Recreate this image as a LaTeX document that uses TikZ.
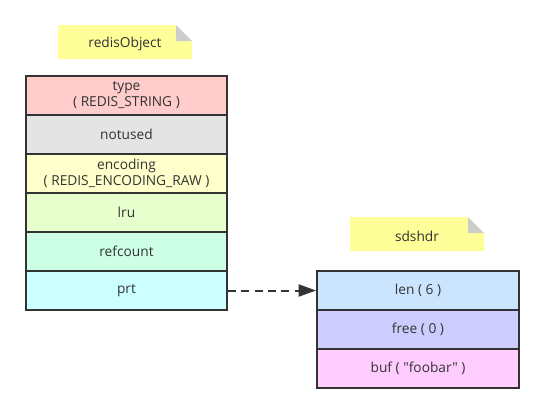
\documentclass[tikz,border=0pt]{standalone}
\usepackage{fontspec}
\setmainfont{Open Sans}[Ligatures=TeXOff]
\usetikzlibrary{arrows.meta}
\definecolor{edge}{HTML}{333333}
\definecolor{txt}{HTML}{333333}
\definecolor{notey}{HTML}{FFFF99}
\definecolor{fold}{HTML}{CCCCCC}
\tikzset{
  cell/.style={draw=edge, line width=1.5pt, minimum width=201*0.75pt, minimum height=39*0.75pt,
    inner sep=0pt, align=center, font=\fontsize{10.3}{12}\selectfont, text=txt, anchor=north west},
  cellr/.style={cell, minimum width=202*0.75pt},
  notetext/.style={font=\fontsize{10.3}{12}\selectfont, text=txt},
  link/.style={draw=edge, line width=1.5pt, dash pattern=on 6pt off 4pt, -{Triangle[length=13pt,width=9pt]}}
}
\begin{document}
\begin{tikzpicture}[x=0.75pt,y=-0.75pt]
\useasboundingbox (0,0) rectangle (543,412);
% note redisObject
\fill[notey] (58,25) -- (176,25) -- (192,41) -- (192,59) -- (58,59) -- cycle;
\fill[fold] (176,25) -- (176,41) -- (192,41) -- cycle;
\node[notetext] (n1) at (125,44) {redisObject};
% note sdshdr
\fill[notey] (350,217) -- (468,217) -- (484,233) -- (484,251) -- (350,251) -- cycle;
\fill[fold] (468,217) -- (468,233) -- (484,233) -- cycle;
\node[notetext] (n2) at (417,236) {sdshdr};
% left stack
\node[cell, fill={rgb,255:red,255;green,204;blue,204}] (type) at (25,75) {type\\( REDIS\_STRING )};
\node[cell, fill={rgb,255:red,228;green,228;blue,228}] (notused) at (25,114) {notused};
\node[cell, fill={rgb,255:red,255;green,255;blue,204}] (enc) at (25,153) {encoding\\( REDIS\_ENCODING\_RAW )};
\node[cell, fill={rgb,255:red,230;green,255;blue,204}] (lru) at (25,192) {lru};
\node[cell, fill={rgb,255:red,204;green,255;blue,230}] (ref) at (25,231) {refcount};
\node[cell, fill={rgb,255:red,204;green,255;blue,255}] (prt) at (25,270) {prt};
% right stack
\node[cellr, fill={rgb,255:red,204;green,229;blue,255}] (len) at (316,270) {len ( 6 )};
\node[cellr, fill={rgb,255:red,204;green,204;blue,255}] (free) at (316,309) {free ( 0 )};
\node[cellr, fill={rgb,255:red,255;green,204;blue,255}] (buf) at (316,348) {buf ( "foobar" )};
% connector
\draw[link] (prt.east) -- (len.west);
\end{tikzpicture}
\end{document}
